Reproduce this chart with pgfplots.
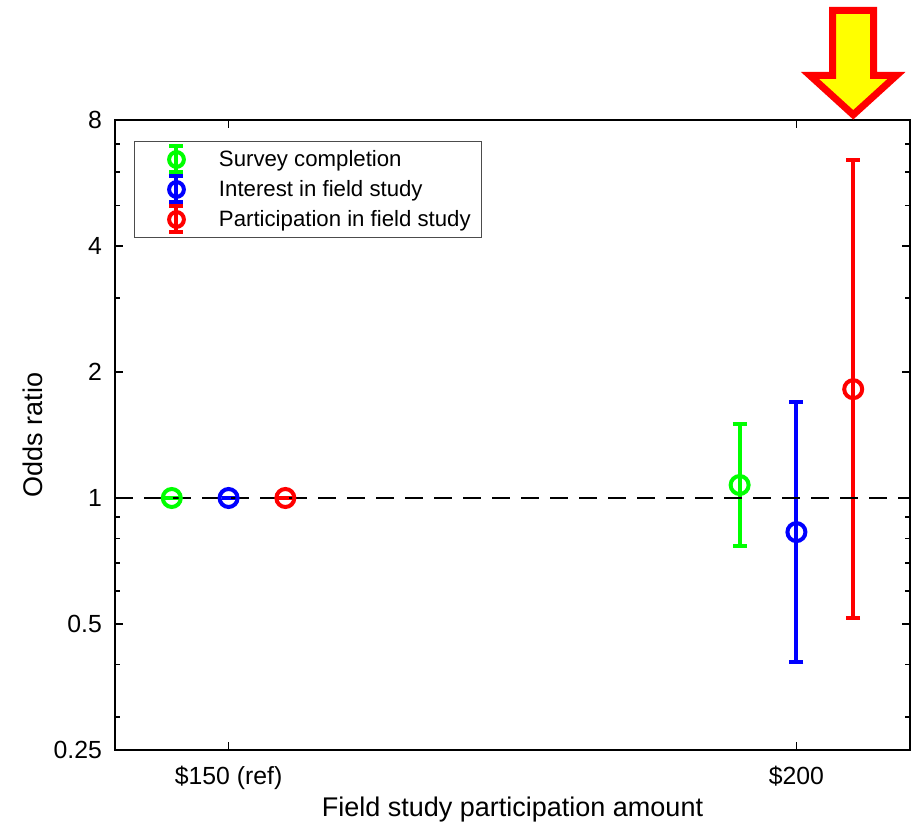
\documentclass[border=0pt]{standalone}
\usepackage{fontspec}
\setmainfont{Liberation Sans}
\usepackage{pgfplots}
\pgfplotsset{compat=1.18}
\definecolor{mgreen}{RGB}{0,255,0}
\definecolor{mblue}{RGB}{0,0,255}
\definecolor{mred}{RGB}{255,0,0}
\definecolor{ayellow}{RGB}{255,255,0}
\pgfplotsset{
  oddsleg/.style={legend image code/.code={
    \path[draw=none, fill=none] (0pt,-7.5pt) rectangle (36.75pt,7.5pt);
    \draw[line width=2pt] (17.5pt,-6.5pt) -- (17.5pt,6.5pt);
    \draw[line width=2pt] (14pt,6.5pt) -- (21pt,6.5pt);
    \draw[line width=2pt] (14pt,-6.5pt) -- (21pt,-6.5pt);
    \draw[line width=2pt] (17.5pt,0pt) circle (3.7pt);
  }},
  oddsplot/.style={only marks, mark=o, mark size=4.5pt,
    mark options={line width=2pt, fill=none},
    error bars/.cd, y dir=both, y explicit,
    error bar style={line width=2pt},
    error mark options={rotate=90, mark size=3.5pt, line width=2pt},
    /pgfplots/.cd}
}
\begin{document}
\begin{tikzpicture}
\path[use as bounding box] (-57.5pt,-37.5pt) rectangle (400.5pt,375pt);
\begin{axis}[
  at={(0,0)}, anchor=south west,
  scale only axis, width=397.5pt, height=315pt,
  xmin=0.8, xmax=2.2,
  ymode=log, ymin=0.25, ymax=8,
  xtick={1,2}, xticklabels={\$150 (ref),\$200},
  ytick={0.25,0.5,1,2,4,8}, yticklabels={0.25,0.5,1,2,4,8},
  minor ytick={0.3,0.4,0.6,0.7,0.8,0.9,3,5,6,7},
  tick align=inside, major tick length=4pt, minor tick length=2.5pt,
  every tick/.style={black, line width=0.9pt},
  axis line style={line width=1.1pt},
  tick label style={font=\fontsize{12.4}{14}\selectfont},
  xticklabel style={yshift=-4.5pt},
  yticklabel style={xshift=-3pt},
  xlabel={Field study participation amount},
  ylabel={Odds ratio},
  every axis x label/.style={at={(axis description cs:0.5,-0.0952)}, anchor=center, font=\fontsize{13.5}{16}\selectfont},
  every axis y label/.style={at={(axis description cs:-0.1031,0.5)}, anchor=center, rotate=90, font=\fontsize{13.5}{16}\selectfont},
  clip=false,
  legend style={at={(0.0239,0.9667)}, anchor=north west, draw=black!70, line width=0.5pt,
    fill=white, font=\fontsize{11.1}{13}\selectfont, inner xsep=3.5pt, inner ysep=1.5pt,
    row sep=0pt, column sep=0pt, cells={anchor=west}},
]
\addplot[mgreen, oddsleg, oddsplot] coordinates {
  (0.9,1) += (0,0) -= (0,0)
  (1.9,1.074) += (0,0.428) -= (0,0.306)
};
\addlegendentry{Survey completion}
\addplot[mblue, oddsleg, oddsplot] coordinates {
  (1.0,1) += (0,0) -= (0,0)
  (2.0,0.829) += (0,0.867) -= (0,0.423)
};
\addlegendentry{Interest in field study}
\addplot[mred, oddsleg, oddsplot] coordinates {
  (1.1,1) += (0,0) -= (0,0)
  (2.1,1.82) += (0,4.60) -= (0,1.303)
};
\addlegendentry{Participation in field study}
\addplot[forget plot, black, line width=0.7pt, dash pattern=on 9pt off 5.5pt] coordinates {(0.8,1) (2.2,1)};
\coordinate (tip) at (axis cs:2.1,8);
\end{axis}
\begin{scope}[shift={(tip)}]
\draw[mred, line width=3.5pt, fill=ayellow, line join=miter, miter limit=10]
  (0pt,2.6pt) -- (21.6pt,22.25pt) -- (10.25pt,22.25pt) -- (10.25pt,54.75pt)
  -- (-10.25pt,54.75pt) -- (-10.25pt,22.25pt) -- (-21.6pt,22.25pt) -- cycle;
\end{scope}
\end{tikzpicture}
\end{document}
